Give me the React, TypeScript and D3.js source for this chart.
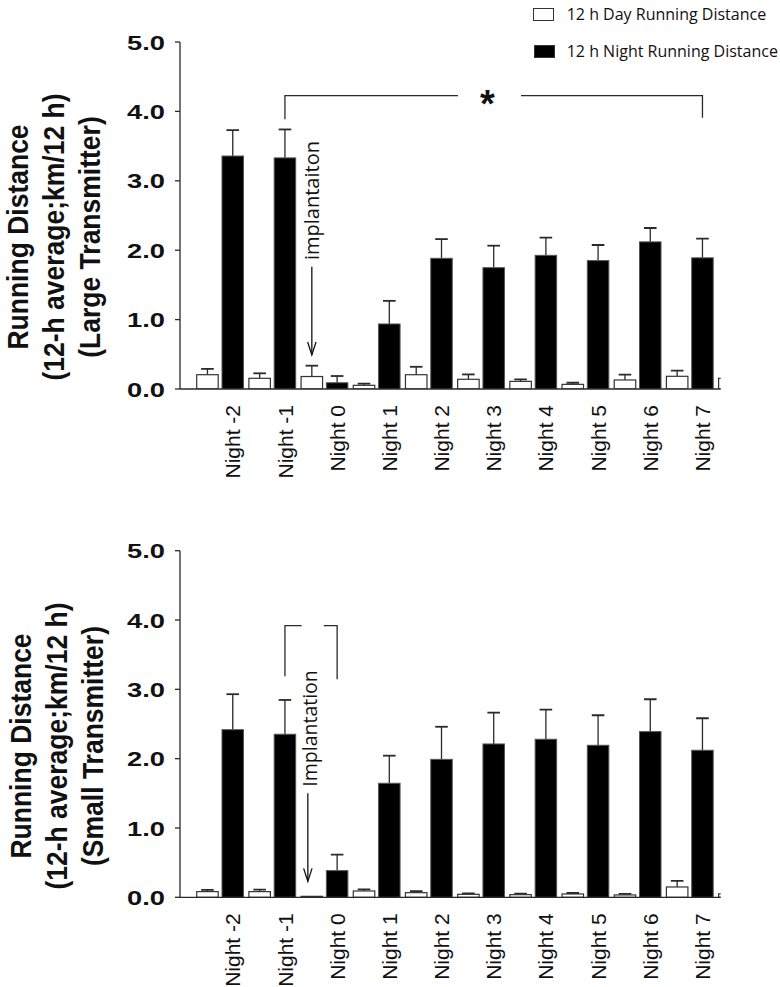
import React from "react";
import * as d3 from "d3";

// ---------- data ----------
const nightLabels = ["Night -2", "Night -1", "Night 0", "Night 1", "Night 2", "Night 3", "Night 4", "Night 5", "Night 6", "Night 7"];
// group indices: 10 nights plus one extra (clipped) day bar at the end
const groupIdx = [0, 1, 2, 3, 4, 5, 6, 7, 8, 9, 10];

const largeDay = [0.206, 0.154, 0.18, 0.053, 0.206, 0.14, 0.11, 0.067, 0.13, 0.183, 0.154];
const largeDaySem = [0.084, 0.072, 0.156, 0.024, 0.114, 0.07, 0.03, 0.023, 0.076, 0.081, 0];
const largeNight = [3.357, 3.33, 0.09, 0.937, 1.883, 1.748, 1.926, 1.85, 2.12, 1.89];
const largeNightSem = [0.373, 0.41, 0.097, 0.333, 0.277, 0.317, 0.254, 0.225, 0.2, 0.276];

const smallDay = [0.082, 0.082, 0.014, 0.091, 0.067, 0.043, 0.038, 0.048, 0.034, 0.149, 0.05];
const smallDaySem = [0.024, 0.028, 0.006, 0.024, 0.023, 0.015, 0.015, 0.014, 0.014, 0.087, 0];
const smallNight = [2.418, 2.352, 0.385, 1.645, 1.99, 2.212, 2.28, 2.193, 2.39, 2.121];
const smallNightSem = [0.512, 0.495, 0.231, 0.398, 0.47, 0.452, 0.427, 0.433, 0.467, 0.462];

const yTicks = [0, 1, 2, 3, 4, 5];
const legendItems = ["12 h Day Running Distance", "12 h Night Running Distance"];

// ---------- layout ----------
const W = 780;
const H = 987;
const axisX = 180;
const plotRight = 720.7;
const sansB = "'Liberation Sans', Arial, Helvetica, sans-serif";
const myriad = "'Open Sans', 'Noto Sans', sans-serif";
const ink = "#2a2a2a";

const gx = d3.scaleLinear().domain([0, 10]).range([196.7, 718.6]);
const sub = d3.scaleBand<string>().domain(["day", "night"]).range([0, 46.8]).paddingInner(0.15);
const nightCenter = (i: number) => gx(i) + (sub("night") as number) + sub.bandwidth() / 2;
const dayCenter = (i: number) => gx(i) + (sub("day") as number) + sub.bandwidth() / 2;

type PanelProps = {
  id: string;
  yBottom: number;
  yTop: number;
  day: number[];
  daySem: number[];
  night: number[];
  nightSem: number[];
  title3: string;
  titleCenter: number;
  titleShift: number;
  children?: (y: d3.ScaleLinear<number, number>) => React.ReactNode;
};

function ErrBar({ x, y1, y2 }: { x: number; y1: number; y2: number }) {
  if (Math.abs(y1 - y2) < 0.5) return null;
  return (
    <g stroke={ink} strokeWidth={1.3}>
      <line x1={x} x2={x} y1={y1} y2={y2} />
      <line x1={x - 6.3} x2={x + 6.3} y1={y2} y2={y2} strokeWidth={1.8} />
    </g>
  );
}

function Panel(p: PanelProps) {
  const y = d3.scaleLinear().domain([0, 5]).range([p.yBottom, p.yTop]);
  const bw = sub.bandwidth();
  return (
    <g>
      <defs>
        <clipPath id={`clip-${p.id}`}>
          <rect x={axisX} y={p.yTop - 60} width={plotRight - axisX} height={p.yBottom - p.yTop + 60} />
        </clipPath>
      </defs>
      {/* y title */}
      {["Running Distance", "(12-h average;km/12 h)", p.title3].map((t, k) => (
        <text
          key={k}
          transform={`translate(${28 + p.titleShift + k * 36},${p.titleCenter}) scale(1.12,1) rotate(-90)`}
          textAnchor="middle"
          fontFamily={sansB}
          fontWeight="bold"
          fontSize={26.5}
          fill="#111"
        >
          {t}
        </text>
      ))}
      {/* y axis */}
      <line x1={axisX} x2={axisX} y1={y(5)} y2={y(0)} stroke={ink} strokeWidth={1.3} />
      {yTicks.map((t) => (
        <g key={t}>
          <line x1={axisX - 5} x2={axisX} y1={y(t)} y2={y(t)} stroke={ink} strokeWidth={1.3} />
          <text
            transform={`translate(165,${y(t)}) scale(1.3,1)`}
            textAnchor="end"
            dy="0.36em"
            fontFamily={sansB}
            fontWeight="bold"
            fontSize={21}
            fill="#111"
          >
            {d3.format(".1f")(t)}
          </text>
        </g>
      ))}
      {/* bars */}
      <g clipPath={`url(#clip-${p.id})`}>
        {groupIdx.map((i) => {
          const xd = gx(i) + (sub("day") as number);
          const xn = gx(i) + (sub("night") as number);
          const dv = p.day[i];
          const nv = p.night[i];
          return (
            <g key={i}>
              {dv !== undefined && (
                <>
                  <ErrBar x={xd + bw / 2} y1={y(dv)} y2={y(dv + p.daySem[i])} />
                  <rect x={xd} y={y(dv)} width={bw} height={y(0) - y(dv)} fill="#fff" stroke="#333" strokeWidth={1.2} />
                </>
              )}
              {nv !== undefined && (
                <>
                  <ErrBar x={xn + bw / 2} y1={y(nv)} y2={y(nv + p.nightSem[i])} />
                  <rect x={xn} y={y(nv)} width={bw} height={y(0) - y(nv)} fill="#000" stroke="#555" strokeWidth={1} />
                </>
              )}
            </g>
          );
        })}
      </g>
      {/* x axis */}
      <line x1={axisX} x2={plotRight} y1={y(0)} y2={y(0)} stroke={ink} strokeWidth={1.3} />
      {nightLabels.map((l, i) => (
        <text
          key={l}
          transform={`translate(${nightCenter(i)},${y(0) + 16}) rotate(-90)`}
          textAnchor="end"
          dy="0.36em"
          fontFamily={sansB}
          fontSize={21}
          fill="#111"
        >
          {l}
        </text>
      ))}
      {p.children && p.children(y)}
    </g>
  );
}

function Arrow({ x, yFrom, yTo }: { x: number; yFrom: number; yTo: number }) {
  return (
    <g stroke="#111" strokeWidth={1.3} fill="none">
      <line x1={x} x2={x} y1={yFrom} y2={yTo} />
      <polyline points={`${x - 4.2},${yTo - 13} ${x},${yTo} ${x + 4.2},${yTo - 13}`} />
    </g>
  );
}

export default function App() {
  return (
    <svg width={W} height={H} style={{ position: "absolute", left: 0, top: 0, background: "#fff" }}>
      {/* legend */}
      {legendItems.map((t, k) => (
        <g key={t}>
          <rect
            x={533.5 + k}
            y={8.5 + k * 37}
            width={20}
            height={12}
            fill={k === 0 ? "#fff" : "#000"}
            stroke="#333"
            strokeWidth={1}
          />
          <text x={566.7} y={19.5 + k * 37} fontFamily={myriad} fontSize={16} fill="#111">
            {t}
          </text>
        </g>
      ))}

      <Panel
        id="large"
        yBottom={389}
        yTop={42}
        day={largeDay}
        daySem={largeDaySem}
        night={largeNight}
        nightSem={largeNightSem}
        title3="(Large Transmitter)"
        titleCenter={237}
        titleShift={0}
      >
        {(y) => (
          <g>
            <g stroke={ink} strokeWidth={1.3} fill="none">
              <polyline points={`${nightCenter(1)},${y(3.886)} ${nightCenter(1)},${y(4.226)} 458,${y(4.226)}`} />
              <polyline points={`521,${y(4.226)} ${nightCenter(9)},${y(4.226)} ${nightCenter(9)},${y(3.91)}`} />
            </g>
            <text x={487.5} y={y(4.226) + 21} textAnchor="middle" fontFamily={sansB} fontWeight="bold" fontSize={38} fill="#111">
              *
            </text>
            <text
              transform={`translate(${dayCenter(2) + 7},260) rotate(-90)`}
              fontFamily={myriad}
              fontSize={20}
              fill="#111"
            >
              implantaiton
            </text>
            <Arrow x={dayCenter(2)} yFrom={y(1.76)} yTo={y(0.49)} />
          </g>
        )}
      </Panel>

      <Panel
        id="small"
        yBottom={897.3}
        yTop={550.7}
        day={smallDay}
        daySem={smallDaySem}
        night={smallNight}
        nightSem={smallNightSem}
        title3="(Small Transmitter)"
        titleCenter={746}
        titleShift={3}
      >
        {(y) => (
          <g>
            <g stroke={ink} strokeWidth={1.3} fill="none">
              <polyline points={`${nightCenter(1)},${y(3.19)} ${nightCenter(1)},${y(3.92)} ${nightCenter(1) + 16.7},${y(3.92)}`} />
              <polyline points={`${nightCenter(2) - 13.4},${y(3.92)} ${nightCenter(2)},${y(3.92)} ${nightCenter(2)},${y(3.146)}`} />
            </g>
            <text
              transform={`translate(${dayCenter(2) + 5},786.7) rotate(-90)`}
              fontFamily={myriad}
              fontSize={19.5}
              fill="#111"
            >
              Implantation
            </text>
            <Arrow x={dayCenter(2) - 4} yFrom={y(1.5)} yTo={y(0.23)} />
          </g>
        )}
      </Panel>
    </svg>
  );
}
